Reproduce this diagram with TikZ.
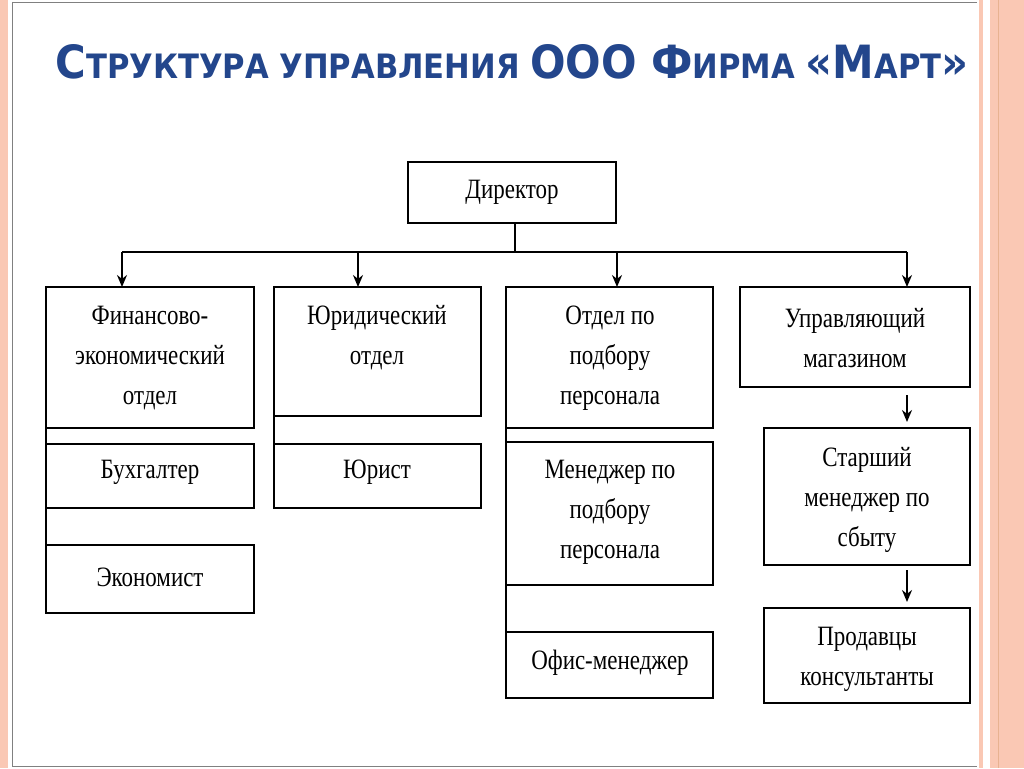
\documentclass[tikz,border=0pt]{standalone}
\usepackage{fontspec}
\setmainfont{Liberation Serif}
\newfontfamily\titlefont{DejaVu Sans}
\usetikzlibrary{arrows.meta}
\definecolor{stripe}{RGB}{250,200,180}
\definecolor{titleblue}{RGB}{35,70,140}
\begin{document}
\begin{tikzpicture}[x=1pt,y=-1pt,
  box/.style={draw,line width=2pt,inner sep=0pt},
  lbl/.style={font=\fontsize{28}{40}\selectfont,align=center,xscale=0.82},
  arr/.style={line width=1.8pt,-{Stealth[length=12pt,width=10pt]}},
  ln/.style={line width=1.8pt}]
\useasboundingbox (0,0) rectangle (1024,768);
\fill[white] (0,0) rectangle (1024,768);
\fill[stripe] (0,0) rectangle (8,768);
\fill[stripe] (979,0) rectangle (983,768);
\fill[stripe] (990,0) rectangle (1024,768);
\draw[stripe!70!brown,line width=0.6pt] (998,0) -- (998,768);
\draw[gray,line width=0.8pt] (12,2) -- (977,2) (12,2) -- (12,766) -- (977,766);
\node[font=\titlefont\bfseries,text=titleblue] (title) at (512,62)
 {\resizebox{913pt}{34pt}{\fontsize{30}{30}\selectfont С\fontsize{22}{22}\selectfont ТРУКТУРА УПРАВЛЕНИЯ \fontsize{30}{30}\selectfont ООО Ф\fontsize{22}{22}\selectfont ИРМА \fontsize{30}{30}\selectfont «М\fontsize{22}{22}\selectfont АРТ\fontsize{30}{30}\selectfont »}};
% boxes
\node[box] (dir) at (512,192.5) [minimum width=208pt,minimum height=61pt] {};
\node[lbl] at (dir) {Директор};
\draw[box] (46,287) rectangle (254,428); \node[lbl] (fin) at (150,358) {Финансово-\\экономический\\отдел};
\draw[box] (46,444) rectangle (254,508); \node[lbl] (buh) at (150,472) {Бухгалтер};
\draw[box] (46,545) rectangle (254,613); \node[lbl] (eco) at (150,577) {Экономист};
\draw[box] (274,287) rectangle (481,416); \node[lbl] (jur) at (377,338) {Юридический\\отдел};
\draw[box] (274,444) rectangle (481,508); \node[lbl] (jurist) at (377,472) {Юрист};
\draw[box] (506,287) rectangle (713,428); \node[lbl] (pers) at (610,358) {Отдел по\\подбору\\персонала};
\draw[box] (506,442) rectangle (713,585); \node[lbl] (man) at (610,512) {Менеджер по\\подбору\\персонала};
\draw[box] (506,632) rectangle (713,698); \node[lbl] (off) at (610,663) {Офис-менеджер};
\draw[box] (740,287) rectangle (970,387); \node[lbl] (upr) at (855,338) {Управляющий\\магазином};
\draw[box] (764,428) rectangle (970,565); \node[lbl] (star) at (867,500) {Старший\\менеджер по\\сбыту};
\draw[box] (764,608) rectangle (970,703); \node[lbl] (prod) at (867,659) {Продавцы\\консультанты};
% connectors
\coordinate (bus) at (515,252);
\draw[ln] (dir.south) ++(3,0) -- (bus);
\draw[ln] (122,252) -- (907,252);
\draw[arr] (122,252) -- (122,287);
\draw[arr] (358,252) -- (358,287);
\draw[arr] (617,252) -- (617,287);
\draw[arr] (907,252) -- (907,287);
\draw[ln] (46,428) -- (46,545);
\draw[ln] (274,416) -- (274,444);
\draw[ln] (506,428) -- (506,632);
\draw[arr] (907,395) -- (907,422);
\draw[arr] (907,570) -- (907,602);
\end{tikzpicture}
\end{document}
